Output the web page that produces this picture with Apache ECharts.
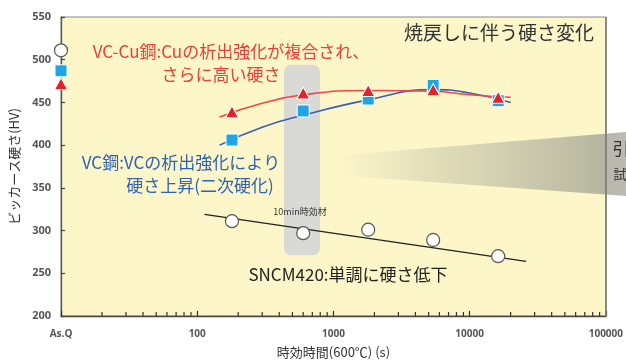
<!DOCTYPE html>
<html>
<head>
<meta charset="utf-8">
<script src="https://cdn.jsdelivr.net/npm/echarts@6/dist/echarts.min.js"></script>
<style>
  html, body { margin: 0; padding: 0; background: #ffffff; }
  #chart { width: 626px; height: 364px; }
</style>
</head>
<body>
<div id="chart"></div>
<script>
// Aging time axis (log scale); the left end stands for the as-quenched state
const xTickValues = [10, 100, 1000, 10000, 100000];
const xTickLabels = ['As.Q', '100', '1000', '10000', '100000'];
const xMinorTicks = [20, 30, 40, 50, 60, 70, 80, 90,
                     200, 300, 400, 500, 600, 700, 800, 900,
                     2000, 3000, 4000, 5000, 6000, 7000, 8000, 9000,
                     20000, 30000, 40000, 50000, 60000, 70000, 80000, 90000];

// Measured hardness (HV) at As.Q and after aging at 600°C
const agingTimes = [10, 180, 600, 1800, 5400, 16200];
const vcCuHardness = [472, 439, 461, 464, 465, 456];
const vcHardness   = [487, 406, 440, 454, 470, 452];
const sncmHardness = [511, 311, 297, 301, 289, 270];

// Trend curves
const vcCuTrendX = [146, 300, 600, 1800, 5400, 10000, 20000];
const vcCuTrendY = [433, 449, 459, 464, 463, 459, 456];
const vcTrendX   = [146, 300, 600, 1800, 5400, 10000, 20000];
const vcTrendY   = [400, 421, 435, 453, 465, 461, 450];
const sncmTrendX = [113, 26000];
const sncmTrendY = [319, 264];

// Highlighted 10 min aging band: [xFrom, xTo, yTop, yBottom]
const bandRange = [434, 796, 494, 271];

const Y_MIN = 200;
const JP = '"Noto Sans CJK JP", "Noto Sans", sans-serif';

function zip(xs, ys) { return xs.map((x, i) => [x, ys[i]]); }

function textEl(text, x, y, size, color, weight) {
  return {
    type: 'text', x: x, y: y, z: 100,
    style: {
      text: text, fill: color,
      font: (weight || 'normal') + ' ' + size + 'px ' + JP,
      textAlign: 'center', textVerticalAlign: 'middle',
      align: 'center', verticalAlign: 'middle'
    }
  };
}

const chart = echarts.init(document.getElementById('chart'));

chart.setOption({
  animation: false,
  backgroundColor: '#ffffff',
  grid: {
    left: 59, right: 20, top: 17, bottom: 48,
    show: true, backgroundColor: '#fcf6c8',
    borderColor: '#8a8a8a', borderWidth: 1
  },
  xAxis: {
    type: 'log', logBase: 10, min: 10, max: 100000, z: 4,
    name: '時効時間(600℃) (s)',
    nameLocation: 'middle', nameGap: 30,
    nameTextStyle: { fontFamily: JP, fontSize: 13, color: '#333' },
    axisLine: { show: true, lineStyle: { color: '#444', width: 1.3 } },
    axisTick: { show: true, inside: true, length: 5, customValues: xTickValues,
                lineStyle: { color: '#333', width: 1.2 } },
    axisLabel: {
      customValues: xTickValues,
      formatter: function (v) {
        const i = xTickValues.indexOf(v);
        return i >= 0 ? xTickLabels[i] : '';
      },
      margin: 13, fontSize: 10, color: '#555', fontWeight: 'bold',
      fontFamily: 'Open Sans'
    },
    splitLine: { show: false }
  },
  yAxis: {
    type: 'value', min: Y_MIN, max: 550, interval: 50, z: 4,
    name: 'ビッカース硬さ(HV)',
    nameLocation: 'middle', nameGap: 40,
    nameTextStyle: { fontFamily: JP, fontSize: 13, color: '#333' },
    axisLine: { show: true, lineStyle: { color: '#555', width: 1.3 } },
    axisTick: { show: true, inside: true, length: 4, lineStyle: { color: '#444', width: 1.2 } },
    axisLabel: { fontSize: 11, color: '#555', fontWeight: 'bold', margin: 10,
                 fontFamily: 'Open Sans' },
    splitLine: { show: false }
  },
  graphic: [
    {
      // Wedge leading to the neighbouring panel
      type: 'polygon', z: 1,
      shape: { points: [[333, 156], [626, 132], [626, 196], [333, 175]] },
      style: {
        fill: new echarts.graphic.LinearGradient(0, 0, 1, 0, [
          { offset: 0, color: 'rgba(210,210,180,0)' },
          { offset: 0.3, color: 'rgba(190,190,165,0.4)' },
          { offset: 0.92, color: 'rgba(165,165,150,0.8)' },
          { offset: 1, color: 'rgba(170,170,160,0.8)' }
        ])
      }
    },
    {
      type: 'line', z: 50,
      shape: { x1: 606, y1: 17, x2: 606, y2: 316 },
      style: { stroke: '#777', lineWidth: 1.5 }
    },
    textEl('引', 621, 149, 17, '#333'),
    textEl('試', 620, 174, 13, '#333'),
    textEl('焼戻しに伴う硬さ変化', 499, 33, 19, '#333'),
    textEl('VC-Cu鋼:Cuの析出強化が複合され、', 231, 52, 17, '#e8413a'),
    textEl('さらに高い硬さ', 221, 75, 17, '#e8413a'),
    textEl('VC鋼:VCの析出強化により', 181, 163, 17, '#2f62b5'),
    textEl('硬さ上昇(二次硬化)', 200, 186, 17, '#2f62b5'),
    textEl('SNCM420:単調に硬さ低下', 348, 275, 17, '#222'),
    textEl('10min時効材', 300, 212, 9, '#333')
  ],
  series: [
    {
      // Minor log ticks along the time axis
      type: 'custom', z: 20, clip: false,
      data: xMinorTicks.map(v => [v, Y_MIN]),
      renderItem: function (params, api) {
        const p = api.coord([api.value(0), api.value(1)]);
        return {
          type: 'rect',
          shape: { x: p[0] - 0.6, y: p[1] - 4, width: 1.2, height: 4 },
          style: { fill: '#333' }
        };
      }
    },
    {
      type: 'custom', z: 1, clip: false,
      data: [bandRange],
      renderItem: function (params, api) {
        const p1 = api.coord([api.value(0), api.value(2)]);
        const p2 = api.coord([api.value(1), api.value(3)]);
        return {
          type: 'rect',
          shape: { x: p1[0], y: p1[1], width: p2[0] - p1[0], height: p2[1] - p1[1], r: 7 },
          style: { fill: '#d9d9d6' }
        };
      }
    },
    {
      type: 'line', z: 3, data: zip(sncmTrendX, sncmTrendY),
      showSymbol: false, lineStyle: { color: '#222', width: 1.4 }
    },
    {
      type: 'line', z: 3, data: zip(vcTrendX, vcTrendY), smooth: 0.5,
      showSymbol: false, lineStyle: { color: '#3a5fb2', width: 1.6 }
    },
    {
      type: 'line', z: 3, data: zip(vcCuTrendX, vcCuTrendY), smooth: 0.5,
      showSymbol: false, lineStyle: { color: '#f04848', width: 1.6 }
    },
    {
      type: 'scatter', z: 5, clip: false, data: zip(agingTimes, sncmHardness),
      symbol: 'circle', symbolSize: 13,
      itemStyle: { color: '#ffffff', borderColor: '#555', borderWidth: 1.2, opacity: 1 }
    },
    {
      type: 'scatter', z: 5, clip: false, data: zip(agingTimes, vcHardness),
      symbol: 'rect', symbolSize: 12,
      itemStyle: { color: '#1ea6e3', borderColor: '#ffffff', borderWidth: 1, opacity: 1 }
    },
    {
      type: 'scatter', z: 6, clip: false, data: zip(agingTimes, vcCuHardness),
      symbol: 'triangle', symbolSize: [13, 12],
      itemStyle: { color: '#e3222a', borderColor: '#ffffff', borderWidth: 1, opacity: 1 }
    }
  ]
});
</script>
</body>
</html>
